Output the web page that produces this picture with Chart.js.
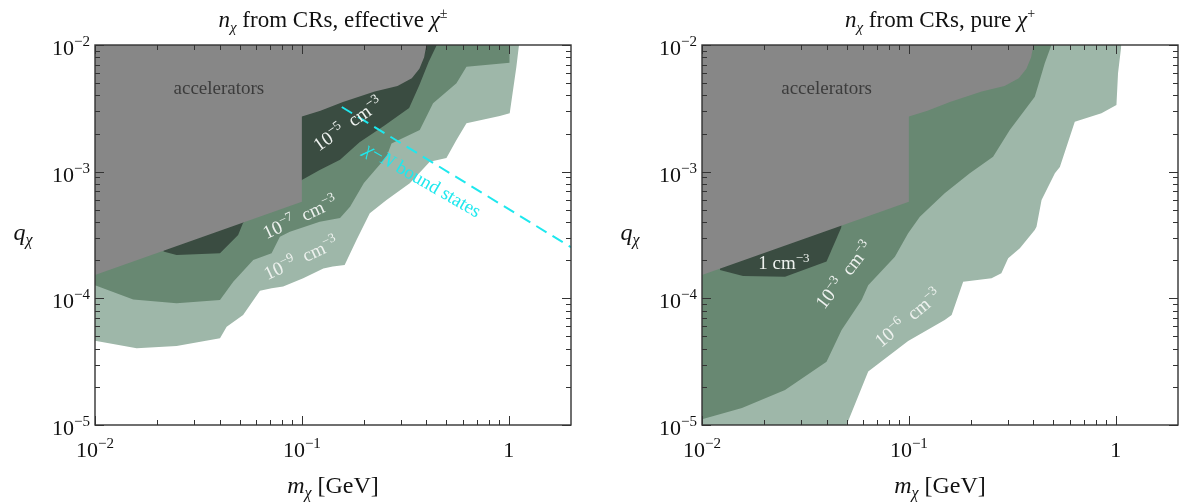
<!DOCTYPE html>
<html>
<head>
<meta charset="utf-8">
<script src="https://cdn.jsdelivr.net/npm/chart.js@4.4.1/dist/chart.umd.min.js"></script>
<style>
  html, body { margin: 0; padding: 0; background: #fff; }
  #wrap { position: relative; width: 1180px; height: 502px; }
  .panel { position: absolute; top: 0; width: 590px; height: 502px; }
</style>
</head>
<body>
<div id="wrap">
  <div class="panel" style="left:0"><canvas id="left" width="590" height="502"></canvas></div>
  <div class="panel" style="left:590px"><canvas id="right" width="590" height="502"></canvas></div>
</div>
<script>
// axis ranges and labelled ticks
const massRange = [0.01, 2];
const chargeRange = [1e-5, 1e-2];
const massTicks = [0.01, 0.1, 1];
const massTickLabels = [['10', '−2'], ['10', '−1'], ['1', '']];
const chargeTicks = [1e-5, 1e-4, 1e-3, 1e-2];
const chargeTickLabels = [['10', '−5'], ['10', '−4'], ['10', '−3'], ['10', '−2']];

// accelerator bound (same in both panels)
const accelMass = [0.01, 0.1, 0.1, 0.123, 0.158, 0.225, 0.29, 0.34, 0.37, 0.39, 0.40];
const accelCharge = [1.53e-4, 5.8e-4, 2.72e-3, 3.03e-3, 3.55e-3, 4.3e-3, 4.75e-3, 5.46e-3, 6.5e-3, 8e-3, 1e-2];

// effective chi+- : density contours
const eff5Mass = [0.0214, 0.0248, 0.0402, 0.0492, 0.052, 0.1, 0.122, 0.153, 0.19, 0.25, 0.33, 0.37, 0.41, 0.449];
const eff5Charge = [2.34e-4, 2.2e-4, 2.27e-4, 3.16e-4, 3.95e-4, 8.6e-4, 1.03e-3, 1.24e-3, 1.71e-3, 2.3e-3, 3.18e-3, 4.83e-3, 7.34e-3, 1e-2];
const eff7Mass = [0.01, 0.0153, 0.0248, 0.0402, 0.0466, 0.0582, 0.0714, 0.0783, 0.0875, 0.122, 0.153, 0.171, 0.1995, 0.2566, 0.2712, 0.3715, 0.4308, 0.5588, 0.6247, 1.011, 1.011];
const eff7Charge = [1.27e-4, 9.8e-5, 9.14e-5, 9.7e-5, 1.35e-4, 2.01e-4, 2.27e-4, 3.07e-4, 3.36e-4, 4.03e-4, 4.3e-4, 5.29e-4, 8.14e-4, 1.31e-3, 1.67e-3, 2.13e-3, 3.47e-3, 4.99e-3, 6.74e-3, 7.25e-3, 1e-2];
const eff9Mass = [0.01, 0.0159, 0.0248, 0.0402, 0.0433, 0.052, 0.0627, 0.0714, 0.0812, 0.1015, 0.127, 0.141, 0.161, 0.1837, 0.213, 0.2566, 0.3324, 0.4152, 0.5, 0.5588, 0.6247, 0.905, 1.011, 1.089, 1.121];
const eff9Charge = [4.63e-5, 4.03e-5, 4.21e-5, 4.83e-5, 5.97e-5, 7.38e-5, 1.15e-4, 1.2e-4, 1.24e-4, 1.44e-4, 1.72e-4, 1.78e-4, 1.83e-4, 2.89e-4, 4.69e-4, 5.97e-4, 8.1e-4, 1.2e-3, 1.28e-3, 1.78e-3, 2.41e-3, 2.75e-3, 2.89e-3, 6.74e-3, 1e-2];

// chi-N bound states line
const boundMass = [0.156, 2];
const boundCharge = [3.24e-3, 2.53e-4];

// pure chi+ : density contours
const pure0Mass = [0.0122, 0.0158, 0.0252, 0.04, 0.0473];
const pure0Charge = [1.67e-4, 1.5e-4, 1.48e-4, 1.95e-4, 3.68e-4];
const pure3Mass = [0.01, 0.0156, 0.0252, 0.04, 0.0473, 0.0591, 0.0636, 0.0856, 0.0992, 0.113, 0.149, 0.197, 0.2554, 0.3075, 0.4062, 0.4295, 0.4539, 0.489];
const pure3Charge = [1.11e-5, 1.36e-5, 1.89e-5, 3.16e-5, 5.62e-5, 9.7e-5, 1.27e-4, 2.13e-4, 3.26e-4, 4.41e-4, 6.75e-4, 9.7e-4, 1.31e-3, 2.13e-3, 3.91e-3, 5.3e-3, 7.17e-3, 1e-2];
const pure6Mass = [0.01, 0.05, 0.0636, 0.0992, 0.149, 0.161, 0.183, 0.251, 0.28, 0.302, 0.344, 0.406, 0.414, 0.438, 0.508, 0.537, 0.634, 0.853, 1.008, 1.026, 1.065];
const pure6Charge = [1e-5, 1e-5, 2.64e-5, 4.6e-5, 6.75e-5, 7.4e-5, 1.35e-4, 1.44e-4, 1.58e-4, 2.07e-4, 2.48e-4, 3.46e-4, 3.68e-4, 5.97e-4, 9.7e-4, 1.09e-3, 2.48e-3, 2.89e-3, 3.36e-3, 5.98e-3, 1e-2];

const GRAY = '#878787';
const DARK = '#3a4c41';
const MID = '#688872';
const LIGHT = '#9eb7a9';
const CYAN = '#1ee8ee';
const FAM = '"Liberation Serif", "DejaVu Serif", serif';

function pts(xs, ys) {
  return xs.map((x, i) => ({ x: x, y: ys[i] }));
}

function region(xs, ys, color) {
  return {
    data: pts(xs, ys), showLine: true, fill: 'end',
    backgroundColor: color, borderColor: color, borderWidth: 0,
    pointRadius: 0, tension: 0
  };
}

// text runs: [text, size, italic, baseline shift]
function R(t, size, italic, dy) {
  return { t: t, size: size, italic: !!italic, dy: dy || 0 };
}

function runFont(r) {
  return (r.italic ? 'italic ' : '') + r.size + 'px ' + FAM;
}

function runsWidth(ctx, runs) {
  let w = 0;
  runs.forEach(r => { ctx.font = runFont(r); w += ctx.measureText(r.t).width; });
  return w;
}

function drawRuns(ctx, runs, x, y, align) {
  const w = runsWidth(ctx, runs);
  let cx = align === 'right' ? x - w : align === 'left' ? x : x - w / 2;
  ctx.textBaseline = 'alphabetic';
  ctx.textAlign = 'left';
  runs.forEach(r => {
    ctx.font = runFont(r);
    ctx.fillText(r.t, cx, y + r.dy);
    cx += ctx.measureText(r.t).width;
  });
}

function tickRuns(lab) {
  const out = [R(lab[0], 22)];
  if (lab[1]) out.push(R(lab[1], 15, false, -9));
  return out;
}

function minorValues(lo, hi) {
  const out = [];
  for (let e = Math.floor(Math.log10(lo)); e <= Math.ceil(Math.log10(hi)); e++) {
    for (let k = 2; k <= 9; k++) {
      const v = k * Math.pow(10, e);
      if (v > lo && v < hi) out.push(v);
    }
  }
  return out;
}

const framePlugin = {
  id: 'frame',
  afterDraw(chart, args, opts) {
    const { ctx, chartArea: a } = chart;
    const sx = chart.scales.x, sy = chart.scales.y;
    ctx.save();

    // in-plot labels
    opts.labels.forEach(l => {
      ctx.save();
      ctx.translate(sx.getPixelForValue(l.x), sy.getPixelForValue(l.y));
      ctx.rotate((l.angle || 0) * Math.PI / 180);
      ctx.fillStyle = l.color;
      drawRuns(ctx, l.runs, 0, 6, 'center');
      ctx.restore();
    });

    ctx.strokeStyle = '#333';
    ctx.lineWidth = 1;
    ctx.beginPath();
    const minorX = minorValues(massRange[0], massRange[1]);
    const minorY = minorValues(chargeRange[0], chargeRange[1]);
    const tick = (vals, len, horiz) => {
      vals.forEach(v => {
        if (horiz) {
          const px = Math.round(sx.getPixelForValue(v)) + 0.5;
          ctx.moveTo(px, a.bottom); ctx.lineTo(px, a.bottom - len);
          ctx.moveTo(px, a.top); ctx.lineTo(px, a.top + len);
        } else {
          const py = Math.round(sy.getPixelForValue(v)) + 0.5;
          ctx.moveTo(a.left, py); ctx.lineTo(a.left + len, py);
          ctx.moveTo(a.right, py); ctx.lineTo(a.right - len, py);
        }
      });
    };
    tick(massTicks, 9, true);
    tick(minorX, 5, true);
    tick(chargeTicks, 9, false);
    tick(minorY, 5, false);
    ctx.stroke();
    ctx.lineWidth = 1.4;
    ctx.strokeRect(a.left, a.top, a.right - a.left, a.bottom - a.top);

    // tick labels
    ctx.fillStyle = '#111';
    massTicks.forEach((v, i) => {
      drawRuns(ctx, tickRuns(massTickLabels[i]), sx.getPixelForValue(v), a.bottom + 32, 'center');
    });
    chargeTicks.forEach((v, i) => {
      drawRuns(ctx, tickRuns(chargeTickLabels[i]), a.left - 5, sy.getPixelForValue(v) + 10, 'right');
    });

    // axis titles and panel title
    drawRuns(ctx, [R('m', 24, true), R('χ', 16, true, 5), R(' [GeV]', 24)], (a.left + a.right) / 2, a.bottom + 68, 'center');
    drawRuns(ctx, [R('q', 24, true), R('χ', 16, true, 5)], a.left - 72, (a.top + a.bottom) / 2 + 5, 'center');
    drawRuns(ctx, opts.title, (a.left + a.right) / 2, 27, 'center');
    ctx.restore();
  }
};

function makePanel(id, datasets, padding, title, labels) {
  return new Chart(document.getElementById(id), {
    type: 'scatter',
    data: { datasets: datasets },
    options: {
      responsive: false,
      animation: false,
      layout: { padding: padding },
      scales: {
        x: { type: 'logarithmic', min: massRange[0], max: massRange[1], display: false },
        y: { type: 'logarithmic', min: chargeRange[0], max: chargeRange[1], display: false }
      },
      plugins: {
        legend: { display: false },
        tooltip: { enabled: false },
        frame: { title: title, labels: labels }
      }
    },
    plugins: [framePlugin]
  });
}

const TXT = '#eef2ef';
const unit = [R('cm', 19), R('−3', 13, false, -7)];

makePanel('left', [
  {
    data: pts(boundMass, boundCharge), showLine: true, fill: false,
    borderColor: CYAN, borderWidth: 2, borderDash: [12, 7], pointRadius: 0
  },
  region(accelMass, accelCharge, GRAY),
  region(eff5Mass, eff5Charge, DARK),
  region(eff7Mass, eff7Charge, MID),
  region(eff9Mass, eff9Charge, LIGHT)
], { left: 95, right: 19, top: 45, bottom: 77 },
[R('n', 23, true), R('χ', 15, true, 5), R(' from CRs, effective ', 23), R('χ', 23, true), R('±', 14, false, -9)],
[
  { x: 0.0397, y: 4.58e-3, runs: [R('accelerators', 19)], color: '#3c3c3c' },
  { x: 0.167, y: 2.38e-3, angle: -35, runs: [R('10', 19), R('−5', 13, false, -7), R('  ', 19)].concat(unit), color: TXT },
  { x: 0.098, y: 4.38e-4, angle: -25, runs: [R('10', 19), R('−7', 13, false, -7), R('  ', 19)].concat(unit), color: TXT },
  { x: 0.099, y: 2.08e-4, angle: -25, runs: [R('10', 19), R('−9', 13, false, -7), R('  ', 19)].concat(unit), color: TXT },
  { x: 0.384, y: 8.59e-4, angle: 30, runs: [R('χ', 19, true), R('−', 19), R('N', 19, true), R(' bound states', 19)], color: CYAN }
]);

makePanel('right', [
  region(accelMass, accelCharge, GRAY),
  region(pure0Mass, pure0Charge, DARK),
  region(pure3Mass, pure3Charge, MID),
  region(pure6Mass, pure6Charge, LIGHT)
], { left: 112, right: 2, top: 45, bottom: 77 },
[R('n', 23, true), R('χ', 15, true, 5), R(' from CRs, pure ', 23), R('χ', 23, true), R('+', 14, false, -9)],
[
  { x: 0.04, y: 4.58e-3, runs: [R('accelerators', 19)], color: '#3c3c3c' },
  { x: 0.0249, y: 1.9e-4, runs: [R('1 ', 19)].concat(unit), color: TXT },
  { x: 0.0486, y: 1.53e-4, angle: -52, runs: [R('10', 19), R('−3', 13, false, -7), R('  ', 19)].concat(unit), color: TXT },
  { x: 0.0989, y: 7e-5, angle: -40, runs: [R('10', 19), R('−6', 13, false, -7), R('  ', 19)].concat(unit), color: TXT }
]);
</script>
</body>
</html>
